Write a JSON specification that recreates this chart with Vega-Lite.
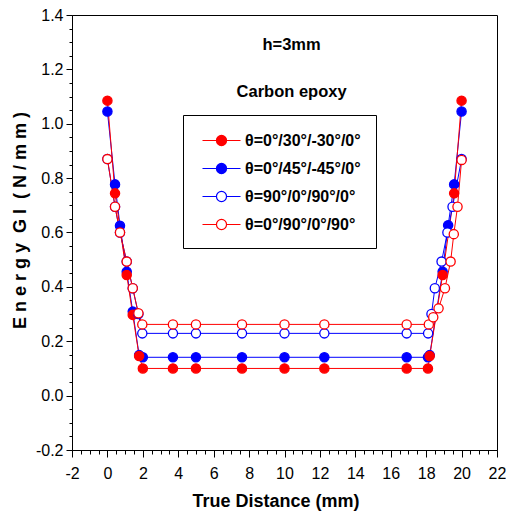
{
  "$schema": "https://vega.github.io/schema/vega-lite/v6.json",
  "width": 425,
  "height": 435,
  "autosize": "none",
  "padding": {"left": 72, "top": 15, "right": 9, "bottom": 62},
  "background": "white",
  "config": {
    "view": {"stroke": "black", "strokeWidth": 1},
    "axis": {"domainColor": "black", "tickColor": "black", "labelColor": "black", "titleColor": "black", "grid": false, "domainWidth": 1, "tickWidth": 1}
  },
  "datasets": {
    "curves": [
      {"series": "θ=0°/45°/-45°/0°", "x": 0, "y": 1.045},
      {"series": "θ=0°/45°/-45°/0°", "x": 0.43, "y": 0.777},
      {"series": "θ=0°/45°/-45°/0°", "x": 0.71, "y": 0.625},
      {"series": "θ=0°/45°/-45°/0°", "x": 1.09, "y": 0.456},
      {"series": "θ=0°/45°/-45°/0°", "x": 1.43, "y": 0.309},
      {"series": "θ=0°/45°/-45°/0°", "x": 1.79, "y": 0.149},
      {"series": "θ=0°/45°/-45°/0°", "x": 2.0, "y": 0.141},
      {"series": "θ=0°/45°/-45°/0°", "x": 3.7, "y": 0.141},
      {"series": "θ=0°/45°/-45°/0°", "x": 5.0, "y": 0.141},
      {"series": "θ=0°/45°/-45°/0°", "x": 7.6, "y": 0.141},
      {"series": "θ=0°/45°/-45°/0°", "x": 10.0, "y": 0.141},
      {"series": "θ=0°/45°/-45°/0°", "x": 12.25, "y": 0.141},
      {"series": "θ=0°/45°/-45°/0°", "x": 16.9, "y": 0.141},
      {"series": "θ=0°/45°/-45°/0°", "x": 18.1, "y": 0.141},
      {"series": "θ=0°/45°/-45°/0°", "x": 18.2, "y": 0.149},
      {"series": "θ=0°/45°/-45°/0°", "x": 18.93, "y": 0.456},
      {"series": "θ=0°/45°/-45°/0°", "x": 19.24, "y": 0.627},
      {"series": "θ=0°/45°/-45°/0°", "x": 19.58, "y": 0.777},
      {"series": "θ=0°/45°/-45°/0°", "x": 20.0, "y": 1.045},
      {"series": "θ=0°/30°/-30°/0°", "x": 0, "y": 1.085},
      {"series": "θ=0°/30°/-30°/0°", "x": 0.43, "y": 0.744},
      {"series": "θ=0°/30°/-30°/0°", "x": 1.09, "y": 0.444},
      {"series": "θ=0°/30°/-30°/0°", "x": 1.43, "y": 0.297},
      {"series": "θ=0°/30°/-30°/0°", "x": 1.79, "y": 0.146},
      {"series": "θ=0°/30°/-30°/0°", "x": 2.0, "y": 0.1},
      {"series": "θ=0°/30°/-30°/0°", "x": 3.7, "y": 0.1},
      {"series": "θ=0°/30°/-30°/0°", "x": 5.0, "y": 0.1},
      {"series": "θ=0°/30°/-30°/0°", "x": 7.6, "y": 0.1},
      {"series": "θ=0°/30°/-30°/0°", "x": 10.0, "y": 0.1},
      {"series": "θ=0°/30°/-30°/0°", "x": 12.25, "y": 0.1},
      {"series": "θ=0°/30°/-30°/0°", "x": 16.9, "y": 0.1},
      {"series": "θ=0°/30°/-30°/0°", "x": 18.1, "y": 0.1},
      {"series": "θ=0°/30°/-30°/0°", "x": 18.2, "y": 0.146},
      {"series": "θ=0°/30°/-30°/0°", "x": 18.93, "y": 0.444},
      {"series": "θ=0°/30°/-30°/0°", "x": 19.58, "y": 0.744},
      {"series": "θ=0°/30°/-30°/0°", "x": 20.0, "y": 1.085},
      {"series": "θ=90°/0°/90°/0°", "x": 0, "y": 0.87},
      {"series": "θ=90°/0°/90°/0°", "x": 0.43, "y": 0.695},
      {"series": "θ=90°/0°/90°/0°", "x": 0.71, "y": 0.6},
      {"series": "θ=90°/0°/90°/0°", "x": 1.09, "y": 0.493},
      {"series": "θ=90°/0°/90°/0°", "x": 1.43, "y": 0.395},
      {"series": "θ=90°/0°/90°/0°", "x": 1.75, "y": 0.3},
      {"series": "θ=90°/0°/90°/0°", "x": 1.97, "y": 0.229},
      {"series": "θ=90°/0°/90°/0°", "x": 3.7, "y": 0.229},
      {"series": "θ=90°/0°/90°/0°", "x": 5.0, "y": 0.229},
      {"series": "θ=90°/0°/90°/0°", "x": 7.6, "y": 0.229},
      {"series": "θ=90°/0°/90°/0°", "x": 10.0, "y": 0.229},
      {"series": "θ=90°/0°/90°/0°", "x": 12.25, "y": 0.229},
      {"series": "θ=90°/0°/90°/0°", "x": 16.9, "y": 0.229},
      {"series": "θ=90°/0°/90°/0°", "x": 18.11, "y": 0.229},
      {"series": "θ=90°/0°/90°/0°", "x": 18.3, "y": 0.3},
      {"series": "θ=90°/0°/90°/0°", "x": 18.49, "y": 0.395},
      {"series": "θ=90°/0°/90°/0°", "x": 18.87, "y": 0.493},
      {"series": "θ=90°/0°/90°/0°", "x": 19.2, "y": 0.6},
      {"series": "θ=90°/0°/90°/0°", "x": 19.49, "y": 0.695},
      {"series": "θ=90°/0°/90°/0°", "x": 20.0, "y": 0.87},
      {"series": "θ=0°/90°/0°/90°", "x": 0, "y": 0.87},
      {"series": "θ=0°/90°/0°/90°", "x": 0.43, "y": 0.695},
      {"series": "θ=0°/90°/0°/90°", "x": 0.71, "y": 0.6},
      {"series": "θ=0°/90°/0°/90°", "x": 1.09, "y": 0.493},
      {"series": "θ=0°/90°/0°/90°", "x": 1.43, "y": 0.395},
      {"series": "θ=0°/90°/0°/90°", "x": 1.75, "y": 0.303},
      {"series": "θ=0°/90°/0°/90°", "x": 1.97, "y": 0.262},
      {"series": "θ=0°/90°/0°/90°", "x": 3.7, "y": 0.262},
      {"series": "θ=0°/90°/0°/90°", "x": 5.0, "y": 0.262},
      {"series": "θ=0°/90°/0°/90°", "x": 7.6, "y": 0.262},
      {"series": "θ=0°/90°/0°/90°", "x": 10.0, "y": 0.262},
      {"series": "θ=0°/90°/0°/90°", "x": 12.25, "y": 0.262},
      {"series": "θ=0°/90°/0°/90°", "x": 16.9, "y": 0.262},
      {"series": "θ=0°/90°/0°/90°", "x": 18.15, "y": 0.262},
      {"series": "θ=0°/90°/0°/90°", "x": 18.4, "y": 0.288},
      {"series": "θ=0°/90°/0°/90°", "x": 18.7, "y": 0.321},
      {"series": "θ=0°/90°/0°/90°", "x": 19.06, "y": 0.395},
      {"series": "θ=0°/90°/0°/90°", "x": 19.38, "y": 0.493},
      {"series": "θ=0°/90°/0°/90°", "x": 19.56, "y": 0.594},
      {"series": "θ=0°/90°/0°/90°", "x": 19.77, "y": 0.695},
      {"series": "θ=0°/90°/0°/90°", "x": 20.0, "y": 0.867}
    ],
    "notes": [
      {"x": 10.4, "y": 1.29, "label": "h=3mm"},
      {"x": 10.4, "y": 1.117, "label": "Carbon epoxy"}
    ]
  },
  "resolve": {"axis": {"x": "independent", "y": "independent"}},
  "layer": [
    {
      "data": {"name": "curves"},
      "mark": {"type": "line", "strokeWidth": 1},
      "encoding": {
        "x": {"field": "x", "type": "quantitative", "scale": {"domain": [-2, 22], "nice": false, "zero": false},
          "axis": {"orient": "bottom", "values": [-2, 0, 2, 4, 6, 8, 10, 12, 14, 16, 18, 20, 22], "labelExpr": "datum.value < 0 ? '-' + format(-datum.value, 'd') : format(datum.value, 'd')", "tickSize": 7, "labelPadding": 8, "labelFont": "Liberation Sans", "labelFontSize": 16, "title": "True Distance (mm)", "titleFont": "Liberation Sans", "titleFontWeight": "bold", "titleFontSize": 18, "titleX": 203.5, "titleY": 56, "titleBaseline": "alphabetic", "titleAlign": "center", "labelFlush": false, "labelOverlap": false}},
        "y": {"field": "y", "type": "quantitative", "scale": {"domain": [-0.2, 1.4], "nice": false, "zero": false},
          "axis": {"orient": "left", "values": [-0.2, 0, 0.2, 0.4, 0.6, 0.8, 1.0, 1.2, 1.4], "labelExpr": "datum.value < 0 ? '-' + format(-datum.value, '.1f') : format(datum.value, '.1f')", "tickSize": 6, "labelPadding": 3, "labelFont": "Liberation Sans", "labelFontSize": 16, "title": "E n e r g y\u00a0 G I\u00a0 ( N / m m )", "titleFont": "Liberation Sans", "titleFontWeight": "bold", "titleFontSize": 18, "titleX": -47, "titleY": 205, "titleAngle": -90, "titleAlign": "center", "titleBaseline": "alphabetic", "labelFlush": false, "labelOverlap": false}},
        "stroke": {"field": "series", "type": "nominal",
          "scale": {"domain": ["θ=0°/30°/-30°/0°", "θ=0°/45°/-45°/0°", "θ=90°/0°/90°/0°", "θ=0°/90°/0°/90°"], "range": ["#ff0000", "#0000ff", "#0000ff", "#ff0000"]},
          "legend": {"title": null, "orient": "none", "legendX": 111, "legendY": 100, "symbolType": "M-2,0H-0.53M0.53,0H2M-0.53,0A0.53,0.53,0,1,1,0.53,0A0.53,0.53,0,1,1,-0.53,0Z", "symbolSize": 361, "symbolStrokeWidth": 1.2, "symbolOpacity": 1, "labelFont": "Liberation Sans", "labelFontWeight": "bold", "labelFontSize": 16, "labelColor": "black", "strokeColor": "black", "fillColor": "white", "padding": 15, "rowPadding": 9, "symbolOffset": 13, "labelOffset": 13, "labelLimit": 300}
        }
      }
    },
    {
      "data": {"name": "curves"},
      "mark": {"type": "point", "shape": "circle", "size": 85, "strokeWidth": 1.3, "filled": true, "opacity": 1},
      "encoding": {
        "x": {"field": "x", "type": "quantitative",
          "axis": {"orient": "bottom", "values": [-1.5, -1, -0.5, 0.5, 1, 1.5, 2.5, 3, 3.5, 4.5, 5, 5.5, 6.5, 7, 7.5, 8.5, 9, 9.5, 10.5, 11, 11.5, 12.5, 13, 13.5, 14.5, 15, 15.5, 16.5, 17, 17.5, 18.5, 19, 19.5, 20.5, 21, 21.5], "labels": false, "tickSize": 4, "domain": false, "title": null, "grid": false}},
        "y": {"field": "y", "type": "quantitative",
          "axis": {"orient": "left", "values": [-0.15, -0.1, -0.05, 0.05, 0.1, 0.15, 0.25, 0.3, 0.35, 0.45, 0.5, 0.55, 0.65, 0.7, 0.75, 0.85, 0.9, 0.95, 1.05, 1.1, 1.15, 1.25, 1.3, 1.35], "labels": false, "tickSize": 3, "domain": false, "title": null, "grid": false}},
        "stroke": {"field": "series", "type": "nominal",
          "scale": {"domain": ["θ=0°/30°/-30°/0°", "θ=0°/45°/-45°/0°", "θ=90°/0°/90°/0°", "θ=0°/90°/0°/90°"], "range": ["#ff0000", "#0000ff", "#0000ff", "#ff0000"]},
          "legend": {"title": null, "orient": "none", "legendX": 111, "legendY": 100, "symbolType": "M-2,0H-0.53M0.53,0H2M-0.53,0A0.53,0.53,0,1,1,0.53,0A0.53,0.53,0,1,1,-0.53,0Z", "symbolSize": 361, "symbolStrokeWidth": 1.2, "symbolOpacity": 1, "labelFont": "Liberation Sans", "labelFontWeight": "bold", "labelFontSize": 16, "labelColor": "black", "strokeColor": "black", "fillColor": "white", "padding": 15, "rowPadding": 9, "symbolOffset": 13, "labelOffset": 13, "labelLimit": 300}
        },
        "fill": {"field": "series", "type": "nominal",
          "scale": {"domain": ["θ=0°/30°/-30°/0°", "θ=0°/45°/-45°/0°", "θ=90°/0°/90°/0°", "θ=0°/90°/0°/90°"], "range": ["#ff0000", "#0000ff", "#ffffff", "#ffffff"]},
          "legend": {"title": null, "orient": "none", "legendX": 111, "legendY": 100, "symbolType": "M-2,0H-0.53M0.53,0H2M-0.53,0A0.53,0.53,0,1,1,0.53,0A0.53,0.53,0,1,1,-0.53,0Z", "symbolSize": 361, "symbolStrokeWidth": 1.2, "symbolOpacity": 1, "labelFont": "Liberation Sans", "labelFontWeight": "bold", "labelFontSize": 16, "labelColor": "black", "strokeColor": "black", "fillColor": "white", "padding": 15, "rowPadding": 9, "symbolOffset": 13, "labelOffset": 13, "labelLimit": 300}
        }
      }
    },
    {
      "data": {"name": "notes"},
      "mark": {"type": "text", "font": "Liberation Sans", "fontWeight": "bold", "fontSize": 16.5, "align": "center", "baseline": "middle", "color": "black"},
      "encoding": {
        "x": {"field": "x", "type": "quantitative", "axis": null},
        "y": {"field": "y", "type": "quantitative", "axis": null},
        "text": {"field": "label"}
      }
    }
  ]
}
